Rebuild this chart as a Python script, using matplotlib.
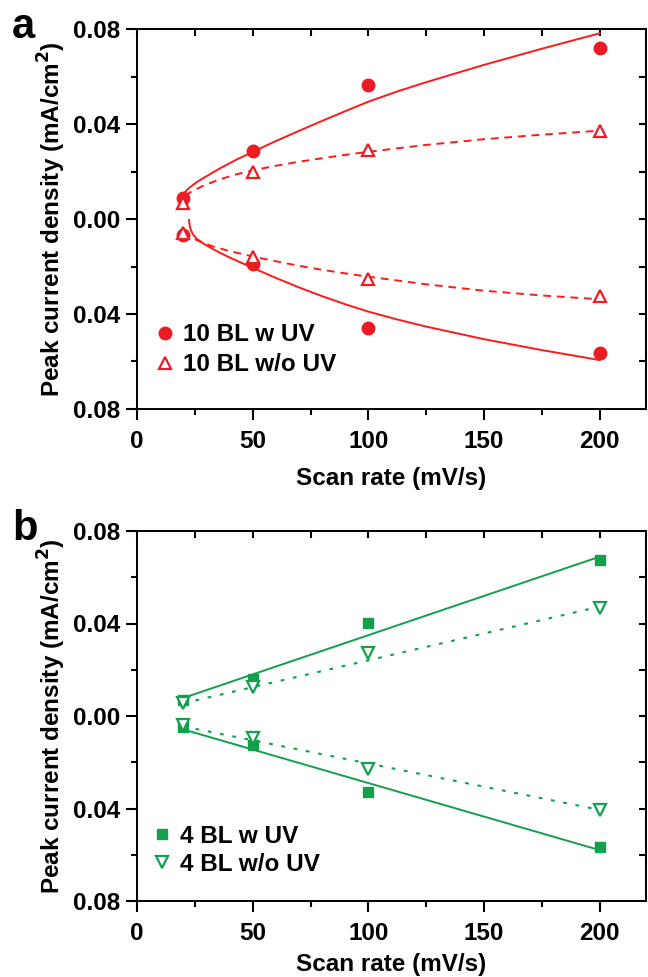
import matplotlib
matplotlib.use("Agg")
import matplotlib.pyplot as plt
from matplotlib.ticker import MultipleLocator, FuncFormatter

plt.rcParams['font.family'] = ['Liberation Sans', 'DejaVu Sans']
plt.rcParams['font.weight'] = 'bold'
plt.rcParams['axes.labelweight'] = 'bold'

# ---------------- data ----------------
scan_rate = [20, 50, 100, 200]

# panel a: 10 BL
a_wuv_pos = [0.0087, 0.0285, 0.0564, 0.0722]
a_wuv_neg = [-0.0067, -0.0190, -0.0459, -0.0566]
a_wouv_pos = [0.0066, 0.0199, 0.0290, 0.0370]
a_wouv_neg = [-0.0060, -0.0160, -0.0254, -0.0323]

# panel a fit curves
a_fit_wuv_pos_x = [19.3, 19.6, 20.7, 22.8, 25.5, 28.6, 35.8, 43.0, 50.1, 60, 70, 80, 90, 100,
                   112.5, 125, 150, 175, 200]
a_fit_wuv_pos_y = [0.0087, 0.0097, 0.0113, 0.0133, 0.0153, 0.0172, 0.0213, 0.0250, 0.0283, 0.0328,
                   0.0371, 0.0413, 0.0454, 0.0494, 0.0537, 0.0576, 0.0649, 0.0717, 0.0782]
a_fit_wuv_neg_x = [22.5, 22.7, 23.2, 24.2, 25.8, 28.6, 32, 35.8, 40, 45, 50.1, 60, 70, 80, 90, 100,
                   112.5, 125, 150, 175, 200]
a_fit_wuv_neg_y = [-0.0004, -0.0025, -0.0045, -0.0065, -0.0083, -0.0103, -0.0122, -0.0142, -0.0162,
                   -0.0184, -0.0206, -0.0248, -0.0288, -0.0325, -0.0359, -0.0390, -0.0423, -0.0453,
                   -0.0506, -0.0552, -0.0594]
a_fit_wouv_pos_x = [20.7, 24, 28.6, 35.8, 43, 50.1, 60, 70, 80, 90, 100, 125, 150, 175, 200]
a_fit_wouv_pos_y = [0.0098, 0.0118, 0.0140, 0.0167, 0.0188, 0.0205, 0.0224, 0.0241, 0.0256, 0.0270,
                    0.0283, 0.0312, 0.0336, 0.0355, 0.0372]
a_fit_wouv_neg_x = [25, 28.6, 32.9, 40, 50.1, 60, 70, 80, 90, 100, 125, 150, 175, 200]
a_fit_wouv_neg_y = [-0.0085, -0.0101, -0.0116, -0.0135, -0.0158, -0.0178, -0.0197, -0.0214, -0.0229,
                    -0.0243, -0.0275, -0.0302, -0.0322, -0.0338]

# panel b: 4 BL
b_wuv_pos = [0.0069, 0.0159, 0.0402, 0.0673]
b_wuv_neg = [-0.0049, -0.0125, -0.0327, -0.0568]
b_wouv_pos = [0.0055, 0.0127, 0.0271, 0.0466]
b_wouv_neg = [-0.0039, -0.0097, -0.0231, -0.0406]

# panel b linear fits (end points)
b_fit_x = [20, 200]
b_fit_wuv_pos = [0.0078, 0.0689]
b_fit_wuv_neg = [-0.0058, -0.0580]
b_fit_wouv_pos = [0.0055, 0.0473]
b_fit_wouv_neg = [-0.0045, -0.0406]

labels_a = ["10 BL w UV", "10 BL w/o UV"]
labels_b = ["4 BL w UV", "4 BL w/o UV"]

RED_M = '#ec1c24'
RED_L = '#ff1a1a'
GREEN = '#12a04c'

FS = 17.5
W, H = 648, 977
fig = plt.figure(figsize=(W / 100, H / 100), dpi=100)


def px_axes(left, top, right, bottom):
    return fig.add_axes([left / W, 1 - bottom / H, (right - left) / W, (bottom - top) / H])


def style_axes(ax, xlabelpad):
    ax.set_xlim(0, 220)
    ax.set_ylim(-0.08, 0.08)
    ax.xaxis.set_major_locator(MultipleLocator(50))
    ax.xaxis.set_minor_locator(MultipleLocator(25))
    ax.yaxis.set_major_locator(MultipleLocator(0.04))
    ax.yaxis.set_minor_locator(MultipleLocator(0.02))
    ax.yaxis.set_major_formatter(FuncFormatter(lambda v, p: f"{abs(v):.2f}"))
    ax.tick_params(which='major', direction='out', length=8, width=1.5, labelsize=FS, pad=4)
    ax.tick_params(axis='x', which='major', pad=7)
    ax.tick_params(which='minor', direction='out', length=4, width=1.5)
    for t in ax.get_xticklabels() + ax.get_yticklabels():
        t.set_fontweight('bold')
    for s in ax.spines.values():
        s.set_linewidth(1.4)
    # inward ticks on top and right
    top = ax.secondary_xaxis('top')
    top.set_xticks([25 * i for i in range(9)])
    top.tick_params(direction='in', length=5, width=1.5, labeltop=False)
    top.spines['top'].set_linewidth(1.4)
    right = ax.secondary_yaxis('right')
    right.set_yticks([-0.08 + 0.02 * i for i in range(9)])
    right.tick_params(direction='in', length=5, width=1.5, labelright=False)
    right.spines['right'].set_linewidth(1.4)
    ax.set_xlabel("Scan rate (mV/s)", fontsize=FS, fontweight='bold', labelpad=xlabelpad)
    ax.set_ylabel("Peak current density (mA/cm$^\\mathbf{2}$)", fontsize=FS, fontweight='bold', labelpad=4)


# ---------------- panel a ----------------
ax1 = px_axes(137, 29, 646, 409)
style_axes(ax1, 10)
ax1.plot(a_fit_wuv_pos_x, a_fit_wuv_pos_y, '-', color=RED_L, lw=1.4)
ax1.plot(a_fit_wuv_neg_x, a_fit_wuv_neg_y, '-', color=RED_L, lw=1.4)
ax1.plot(a_fit_wouv_pos_x, a_fit_wouv_pos_y, color=RED_L, lw=1.4, ls=(0, (4, 3)))
ax1.plot(a_fit_wouv_neg_x, a_fit_wouv_neg_y, color=RED_L, lw=1.4, ls=(0, (4, 3)))
h1, = ax1.plot(scan_rate, a_wuv_pos, 'o', color=RED_M, ms=9, ls='none', label=labels_a[0])
ax1.plot(scan_rate, a_wuv_neg, 'o', color=RED_M, ms=9, ls='none')
h2, = ax1.plot(scan_rate, a_wouv_pos, '^', mfc='white', mec=RED_M, mew=1.6, ms=8.5, ls='none', label=labels_a[1])
ax1.plot(scan_rate, a_wouv_neg, '^', mfc='white', mec=RED_M, mew=1.6, ms=8.5, ls='none')
leg1 = ax1.legend(handles=[h1, h2], loc='lower left', bbox_to_anchor=(-0.003, 0.035), frameon=False,
                  fontsize=FS, handlelength=0.8, handletextpad=0.35, labelspacing=0.28, borderpad=0.3)
for t in leg1.get_texts():
    t.set_fontweight('bold')
fig.text(12 / W, 1 - 38 / H, "a", fontsize=30, fontweight='bold')

# ---------------- panel b ----------------
ax2 = px_axes(137, 531, 646, 901)
style_axes(ax2, 6)
ax2.plot(b_fit_x, b_fit_wuv_pos, '-', color=GREEN, lw=1.4)
ax2.plot(b_fit_x, b_fit_wuv_neg, '-', color=GREEN, lw=1.4)
ax2.plot(b_fit_x, b_fit_wouv_pos, color=GREEN, lw=1.5, ls=(0, (1.8, 4.2)))
ax2.plot(b_fit_x, b_fit_wouv_neg, color=GREEN, lw=1.5, ls=(0, (1.8, 4.2)))
g1, = ax2.plot(scan_rate, b_wuv_pos, 's', color=GREEN, ms=7.5, ls='none', label=labels_b[0])
ax2.plot(scan_rate, b_wuv_neg, 's', color=GREEN, ms=7.5, ls='none')
g2, = ax2.plot(scan_rate, b_wouv_pos, 'v', mfc='white', mec=GREEN, mew=1.6, ms=8.5, ls='none', label=labels_b[1])
ax2.plot(scan_rate, b_wouv_neg, 'v', mfc='white', mec=GREEN, mew=1.6, ms=8.5, ls='none')
leg2 = ax2.legend(handles=[g1, g2], loc='lower left', bbox_to_anchor=(-0.008, 0.015), frameon=False,
                  fontsize=FS, handlelength=0.8, handletextpad=0.35, labelspacing=0.22, borderpad=0.3)
for t in leg2.get_texts():
    t.set_fontweight('bold')
fig.text(12 / W, 1 - 540 / H, "b", fontsize=30, fontweight='bold')

fig.savefig("out.png", dpi=100)
